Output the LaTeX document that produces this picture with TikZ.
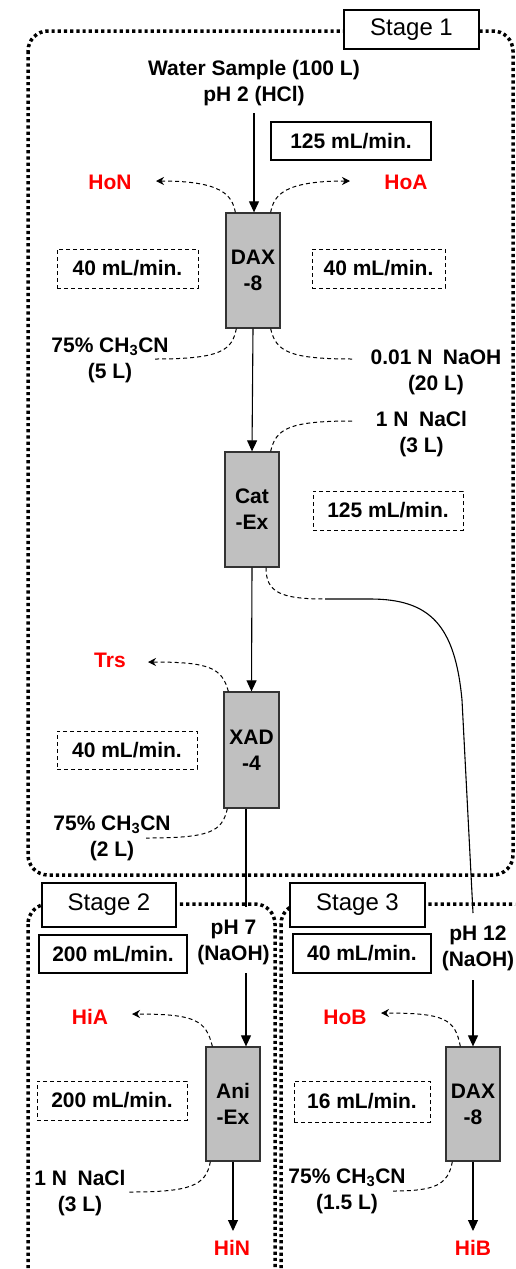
\documentclass[tikz,border=0pt]{standalone}
\usepackage{fontspec}
\setmainfont{Liberation Sans}
\usetikzlibrary{arrows.meta,calc}
\definecolor{colgray}{RGB}{192,192,192}
\definecolor{redlbl}{RGB}{255,0,0}
\begin{document}
\begin{tikzpicture}[x=1pt,y=-1pt,
 txt/.style={font=\fontsize{21}{26}\selectfont\bfseries, align=center, inner sep=0pt},
 rtxt/.style={txt,text=redlbl},
 col/.style={draw=black!80, line width=1.3pt, fill=colgray, minimum width=54pt, minimum height=115pt, inner sep=0pt, txt},
 ratebox/.style={draw, line width=1.2pt, txt, inner sep=0pt},
 dratebox/.style={draw, line width=1pt, dash pattern=on 4pt off 3pt, txt, inner sep=0pt},
 stagebox/.style={draw, line width=2.2pt, fill=white, font=\fontsize{24}{28}\selectfont, inner sep=0pt},
 region/.style={line width=3.5pt, dash pattern=on 3.2pt off 3pt, rounded corners=20pt},
 flow/.style={line width=1.1pt, -{Triangle[length=11pt,width=10pt]}},
 plainline/.style={line width=1.1pt},
 dflow/.style={line width=1pt, dash pattern=on 4pt off 3pt, -{Stealth[length=8pt,width=8pt]}},
 dline/.style={line width=1pt, dash pattern=on 4pt off 3pt},
]
\useasboundingbox (0,0) rectangle (515,1269);
\clip (0,0) rectangle (515,1269);
\fill[white] (0,0) rectangle (515,1269);

% regions
\draw[region] (28,31) rectangle (513,875);
\draw[region] (28,904) rectangle (275,1300);
\draw[region] (281,904) rectangle (535,1300);

% stage labels
\node[stagebox, minimum width=135pt, minimum height=39pt] (s1) at (411.5,29.5) {Stage 1};
\node[stagebox, minimum width=134pt, minimum height=44pt] (s2) at (109,905) {Stage 2};
\node[stagebox, minimum width=135pt, minimum height=44pt] (s3) at (357.5,905) {Stage 3};

% stage 1
\node[txt] (water) at (254,83.5) {Water Sample (100 L)\\pH 2 (HCl)};
\node[ratebox, minimum width=160pt, minimum height=38pt] (r1) at (351,141) {125 mL/min.};
\node[rtxt] (hon) at (110,182) {HoN};
\node[rtxt] (hoa) at (406,182) {HoA};
\node[col] (dax1) at (253,270.5) {DAX\\-8};
\node[dratebox, minimum width=141pt, minimum height=39pt] (r2) at (127.5,268.5) {40 mL/min.};
\node[dratebox, minimum width=133pt, minimum height=39pt] (r3) at (378.5,268.5) {40 mL/min.};
\node[txt] (ch1) at (110,360) {75\% CH\textsubscript{3}CN\\(5 L)};
\node[txt] (naoh) at (436,372) {0.01 N\hspace{0.5em}NaOH\\(20 L)};
\node[txt] (nacl) at (421.5,434.5) {1 N\hspace{0.5em}NaCl\\(3 L)};
\node[col] (cat) at (252,509.5) {Cat\\-Ex};
\node[dratebox, minimum width=150pt, minimum height=39pt] (r4) at (388,510.5) {125 mL/min.};
\node[rtxt] (trs) at (110,660) {Trs};
\node[col, minimum width=55pt, minimum height=116pt] (xad) at (251.5,750) {XAD\\-4};
\node[dratebox, minimum width=140pt, minimum height=38pt] (r5) at (127,750) {40 mL/min.};
\node[txt] (ch2) at (112,838.5) {75\% CH\textsubscript{3}CN\\(2 L)};

% stage 2
\node[txt] (ph7) at (233.5,942.5) {pH 7\\(NaOH)};
\node[ratebox, minimum width=148pt, minimum height=38pt] (r6) at (113,954) {200 mL/min.};
\node[rtxt] (hia) at (90,1017) {HiA};
\node[col, minimum height=114pt] (ani) at (233,1104) {Ani\\-Ex};
\node[dratebox, minimum width=150pt, minimum height=39pt] (r7) at (112,1100.5) {200 mL/min.};
\node[txt] (nacl2) at (80,1193.5) {1 N\hspace{0.5em}NaCl\\(3 L)};
\node[rtxt] (hin) at (232,1248) {HiN};

% stage 3
\node[ratebox, minimum width=138pt, minimum height=39pt] (r8) at (362,953.5) {40 mL/min.};
\node[txt] (ph12) at (478,948) {pH 12\\(NaOH)};
\node[rtxt] (hob) at (345,1017) {HoB};
\node[col, minimum height=114pt] (dax3) at (473,1104) {DAX\\-8};
\node[dratebox, minimum width=136pt, minimum height=41pt] (r9) at (362,1101.5) {16 mL/min.};
\node[txt] (ch3) at (347,1191.5) {75\% CH\textsubscript{3}CN\\(1.5 L)};
\node[rtxt] (hib) at (473,1248) {HiB};

% coordinates
\coordinate (w1) at (254,113);
\coordinate (honT) at (156,181);
\coordinate (hoaT) at (350,181);
\coordinate (ch1T) at (155,359);
\coordinate (naohT) at (353,359);
\coordinate (naclT) at (353,421);
\coordinate (j1) at (325,599);
\coordinate (trsT) at (148,662);
\coordinate (ch2T) at (146,838);
\coordinate (p7a) at (246,907);
\coordinate (p7b) at (246,973);
\coordinate (hiaT) at (132,1014);
\coordinate (nacl2T) at (129,1192);
\coordinate (hinT) at (233,1231);
\coordinate (p12a) at (473,913);
\coordinate (p12b) at (473,980);
\coordinate (hobT) at (381,1013);
\coordinate (ch3T) at (393,1191);
\coordinate (hibT) at (473,1231);

% main flow
\draw[flow] (w1) -- (w1 |- dax1.north);
\draw[flow] (dax1.south) -- (cat.north);
\draw[flow] (cat.south) -- (xad.north);
\draw[plainline] (xad.south -| p7a) -- (p7a);
\draw[flow] (p7b) -- (p7b |- ani.north);
\draw[flow] (ani.south) -- (hinT);
\draw[dline] ($(cat.south)+(14,0)$) .. controls (266,592) and (280,599) .. (j1);
\draw[plainline] (j1) -- (370,599) .. controls (430,599) and (455,625) .. (462,700) -- (p12a);
\draw[flow] (p12b) -- (dax3.north);
\draw[flow] (dax3.south) -- (hibT);

% dashed side flows
\draw[dflow] ($(dax1.north west)+(10,0)$) .. controls (232,195) and (222,181) .. (honT);
\draw[dflow] ($(dax1.north east)+(-10,0)$) .. controls (274,195) and (284,181) .. (hoaT);
\draw[dline] ($(dax1.south west)+(11,0)$) .. controls (232,350) and (222,359) .. (ch1T);
\draw[dline] ($(dax1.south east)+(-10,0)$) .. controls (276,352) and (290,359) .. (naohT);
\draw[dline] ($(cat.north east)+(-9,0)$) .. controls (276,428) and (290,421) .. (naclT);
\draw[dflow] ($(xad.north west)+(5,0)$) .. controls (222,668) and (210,662) .. (trsT);
\draw[dline] ($(xad.south west)+(4,0)$) .. controls (222,832) and (210,838) .. (ch2T);
\draw[dflow] ($(ani.north west)+(7,0)$) .. controls (206,1020) and (195,1014) .. (hiaT);
\draw[dline] ($(ani.south west)+(5,0)$) .. controls (206,1186) and (190,1192) .. (nacl2T);
\draw[dflow] ($(dax3.north west)+(15,0)$) .. controls (455,1019) and (445,1013) .. (hobT);
\draw[dline] ($(dax3.south west)+(7,0)$) .. controls (448,1185) and (435,1191) .. (ch3T);
\end{tikzpicture}
\end{document}
